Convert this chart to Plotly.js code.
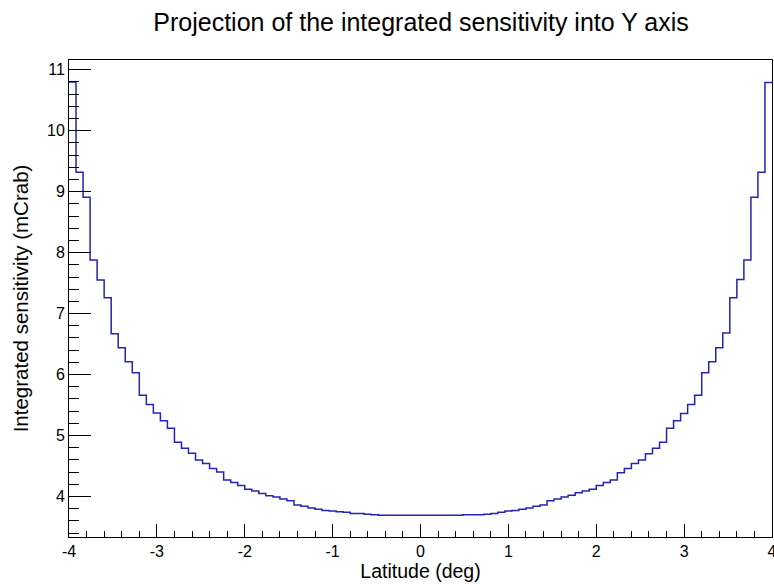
<!DOCTYPE html>
<html>
<head>
<meta charset="utf-8">
<script src="https://cdn.plot.ly/plotly-3.0.1.min.js"></script>
<style>html,body{margin:0;padding:0;background:#fff;}#chart{width:774px;height:584px;}</style>
</head>
<body>
<div id="chart"></div>
<script>
// Histogram: 100 bins from -4 to 4 (deg)
const xMin = -4;
const xMax = 4;
const sensitivity = [
  10.80, 9.32, 8.91, 7.88, 7.55, 7.26, 6.67, 6.44, 6.21, 6.03,
  5.66, 5.51, 5.37, 5.24, 5.12, 4.89, 4.79, 4.71, 4.60, 4.54,
  4.46, 4.40, 4.27, 4.23, 4.18, 4.12, 4.09, 4.05, 4.01, 3.99,
  3.96, 3.93, 3.86, 3.84, 3.81, 3.79, 3.77, 3.76, 3.75, 3.74,
  3.72, 3.72, 3.71, 3.70, 3.69, 3.69, 3.69, 3.69, 3.69, 3.69,
  3.69, 3.69, 3.69, 3.69, 3.69, 3.69, 3.70, 3.70, 3.70, 3.71,
  3.72, 3.74, 3.76, 3.77, 3.79, 3.81, 3.84, 3.86, 3.93, 3.96,
  3.99, 4.02, 4.06, 4.09, 4.12, 4.18, 4.23, 4.27, 4.39, 4.46,
  4.54, 4.60, 4.70, 4.79, 4.89, 5.12, 5.24, 5.36, 5.51, 5.66,
  6.03, 6.21, 6.44, 6.68, 7.26, 7.56, 7.88, 8.91, 9.32, 10.79
];
const xTickVals = [-4, -3, -2, -1, 0, 1, 2, 3, 4];
const yTickVals = [4, 5, 6, 7, 8, 9, 10, 11];

const nBins = sensitivity.length;
const binW = (xMax - xMin) / nBins;
const xs = [], ys = [];
for (let i = 0; i < nBins; i++) { xs.push(xMin + i * binW); ys.push(sensitivity[i]); }
xs.push(xMax); ys.push(sensitivity[nBins - 1]);

const font = "Liberation Sans, Arial, Helvetica, sans-serif";
const trace = {
  x: xs, y: ys, type: "scatter", mode: "lines",
  line: {shape: "hv", color: "#2424b4", width: 1.5},
  hoverinfo: "skip"
};
const layout = {
  width: 774, height: 584,
  margin: {l: 69, r: 2, t: 60, b: 47},
  paper_bgcolor: "#ffffff", plot_bgcolor: "#ffffff",
  showlegend: false,
  title: {text: "Projection of the integrated sensitivity into Y axis",
          font: {family: font, size: 25, color: "#000"},
          x: 0.544, xanchor: "center", y: 0.962, yanchor: "middle"},
  xaxis: {
    range: [xMin, xMax], tickvals: xTickVals, ticktext: xTickVals.map(String),
    ticks: "inside", ticklen: 13, tickwidth: 1, tickcolor: "#000",
    minor: {dtick: 0.2, ticks: "inside", ticklen: 6, tickcolor: "#000", showgrid: false},
    showgrid: false, zeroline: false, ticklabeloverflow: "allow",
    showline: true, linecolor: "#000", linewidth: 1, mirror: true,
    tickfont: {family: font, size: 16, color: "#000"},
    title: {text: "Latitude (deg)", font: {family: font, size: 19.5, color: "#000"}, standoff: 0}
  },
  yaxis: {
    range: [3.335, 11.16], tickvals: yTickVals, ticktext: yTickVals.map(String),
    ticks: "inside", ticklen: 22, tickwidth: 1, tickcolor: "#000",
    minor: {dtick: 0.2, ticks: "inside", ticklen: 10, tickcolor: "#000", showgrid: false},
    showgrid: false, zeroline: false,
    showline: true, linecolor: "#000", linewidth: 1, mirror: true,
    tickfont: {family: font, size: 16, color: "#000"},
    title: {text: "Integrated sensitivity (mCrab)", font: {family: font, size: 20.5, color: "#000"}, standoff: 12}
  }
};
Plotly.newPlot("chart", [trace], layout, {staticPlot: true, displayModeBar: false});
</script>
</body>
</html>
